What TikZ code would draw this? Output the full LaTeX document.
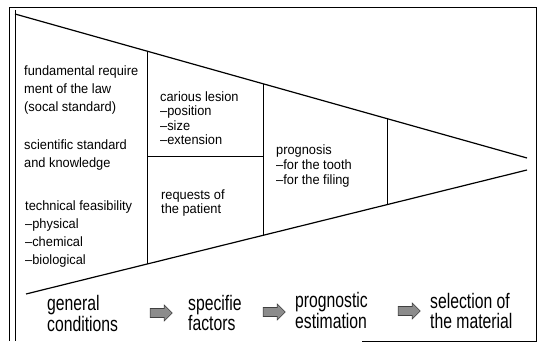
\documentclass[tikz,border=0pt]{standalone}
\usepackage{fontspec}
\setmainfont{Liberation Sans}
\newfontfamily\cellfont[FakeStretch=0.95]{Liberation Sans}
\newfontfamily\stepfont[FakeStretch=0.75]{Liberation Sans}
\usetikzlibrary{shapes.arrows}

\tikzset{
  frame/.style={line width=0.9pt},
  wedge/.style={line width=1.2pt},
  divider/.style={line width=0.8pt},
  cell/.style={anchor=base west, inner sep=0pt, align=left,
    font=\cellfont\fontsize{13.5}{#1}\selectfont},
  cell/.default=18,
  stage/.style={anchor=base west, inner sep=0pt, align=left,
    font=\stepfont\fontsize{21}{19.5}\selectfont},
  flow/.style={single arrow, draw=black!75, fill=black!45, line width=0.6pt,
    minimum height=22pt, inner sep=4.2pt, single arrow head extend=3.5pt}
}
\newcommand{\dsh}{\textendash}

\begin{document}
\begin{tikzpicture}[x=1pt, y=-1pt]
  \useasboundingbox (0,0) rectangle (538,344);

  % border
  \draw[frame] (362,341) -- (536,341) -- (536,7) -- (9,7) -- (9,341);
  \draw[frame] (15,10) -- (15,341);

  % the wedge
  \coordinate (tl) at (15,14);
  \coordinate (bl) at (26,294);
  \coordinate (tip1) at (527,158);
  \coordinate (tip2) at (527,170);
  \draw[wedge] (tl) -- (tip1);
  \draw[wedge] (bl) -- (tip2);

  \coordinate (d1t) at (147,50.9);  \coordinate (d1b) at (147,264.4);
  \coordinate (d2t) at (263,83.6);  \coordinate (d2b) at (263,235.4);
  \coordinate (d3t) at (387,118.5); \coordinate (d3b) at (387,204.6);
  \coordinate (hl) at (147,156);    \coordinate (hr) at (263,156);
  \draw[divider] (d1t) -- (d1b);
  \draw[divider] (d2t) -- (d2b);
  \draw[divider] (d3t) -- (d3b);
  \draw[divider] (hl) -- (hr);

  % first column (placed by the last line)
  \node[cell] (law) at (24,112) {fundamental require\\ment of the law\\(socal standard)};
  \node[cell] (science) at (24,168) {scientific standard\\and knowledge};
  \node[cell] (tech) at (25,264.5) {technical feasibility\\\dsh physical\\\dsh chemical\\\dsh biological};

  % second column
  \node[cell=14.5] (lesion) at (160,145) {carious lesion\\\dsh position\\\dsh size\\\dsh extension};
  \node[cell=14] (patient) at (161,213.5) {requests of\\the patient};

  % third column
  \node[cell=15] (prog) at (276,184.5) {prognosis\\\dsh for the tooth\\\dsh for the filing};

  % bottom row
  \node[stage] (general) at (47,331.5) {general\\conditions};
  \node[stage] (factors) at (188,331) {specifie\\factors};
  \node[stage] (estim) at (295,328.5) {prognostic\\estimation};
  \node[stage] (select) at (430,328.5) {selection of\\the material};

  \node[flow] (a1) at (159,313) {};
  \node[flow] (a2) at (272,312) {};
  \node[flow] (a3) at (407,311) {};
\end{tikzpicture}
\end{document}
